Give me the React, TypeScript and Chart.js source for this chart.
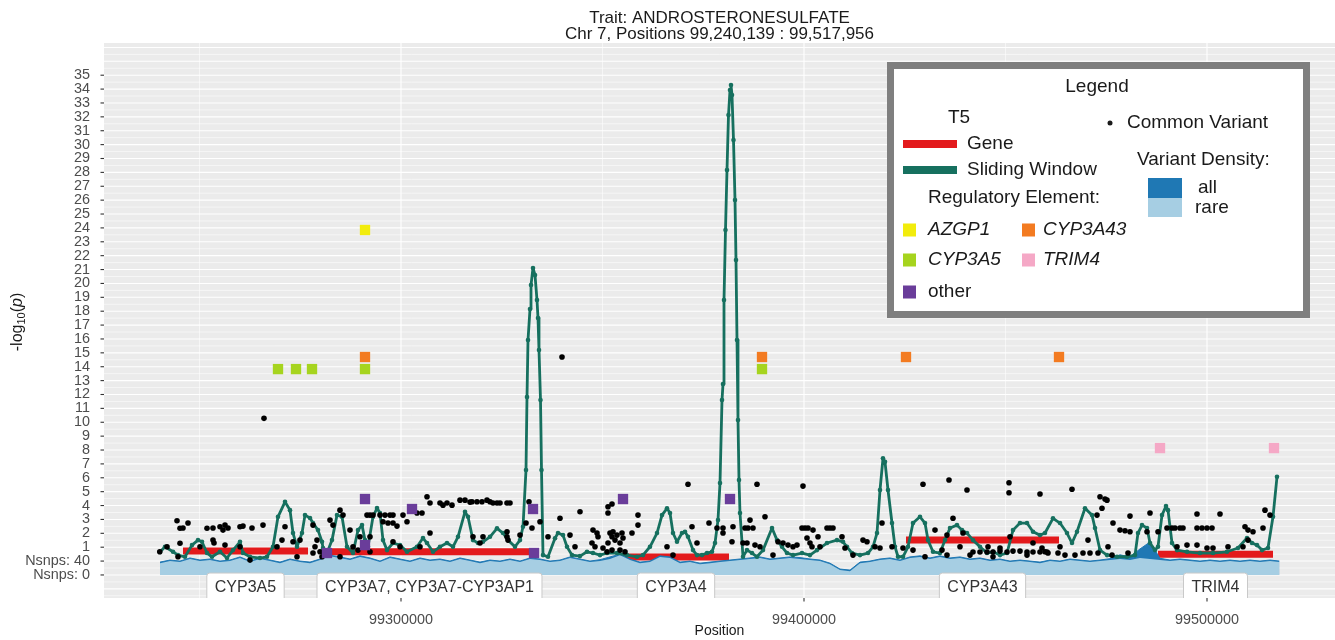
import React, { useEffect, useRef } from 'react';
import { Chart, registerables } from 'chart.js';

Chart.register(...registerables);

const FONT = "'Liberation Sans', Arial, sans-serif";

const TITLE_LINES = ['Trait: ANDROSTERONESULFATE', 'Chr 7, Positions 99,240,139 : 99,517,956'];
const X_TITLE = 'Position';

const X_MIN = 99226302;
const X_MAX = 99531763;
const Y_MIN = -2.66;
const Y_MAX = 37.32;

const X_TICKS = [99300000, 99400000, 99500000];
const X_MINOR = [99250000, 99350000, 99450000];
const Y_TICKS = [-1, 0, 1, 2, 3, 4, 5, 6, 7, 8, 9, 10, 11, 12, 13, 14, 15, 16, 17, 18, 19, 20, 21, 22, 23, 24, 25, 26, 27, 28, 29, 30, 31, 32, 33, 34, 35];
const Y_TICK_LABELS = ['Nsnps: 0', 'Nsnps: 40', '1', '2', '3', '4', '5', '6', '7', '8', '9', '10', '11', '12', '13', '14', '15', '16', '17', '18', '19', '20', '21', '22', '23', '24', '25', '26', '27', '28', '29', '30', '31', '32', '33', '34', '35'];

// genes (T5)
const geneNames = ['CYP3A5', 'CYP3A7, CYP3A7-CYP3AP1', 'CYP3A4', 'CYP3A43', 'TRIM4'];
const geneStart = [99245905, 99281638, 99355087, 99425311, 99487842];
const geneEnd = [99276923, 99332506, 99381390, 99463276, 99516378];
const geneLevel = [0.72, 0.68, 0.29, 1.51, 0.5];
const GENE_LABEL_LEVEL = -1.87;

// sliding window
const windowPos = [
  99240200, 99241439, 99243424, 99244665, 99246402, 99248139, 99249628, 99250620, 99251861, 99253102,
  99255087, 99256824, 99258312, 99260049, 99260794, 99262531, 99265012, 99266749, 99268238, 99269479,
  99271216, 99272456, 99273201, 99274193, 99275434, 99276179, 99277419, 99278164, 99279404, 99280397,
  99280645, 99281638, 99282878, 99284119, 99285360, 99286600, 99288089, 99289330, 99290323, 99291067,
  99291811, 99293052, 99294045, 99294789, 99295533, 99296526, 99298015, 99299752, 99301489, 99303970,
  99305459, 99306452, 99307940, 99309677, 99311414, 99312903, 99314144, 99315881, 99316625, 99317866,
  99319107, 99320347, 99322084, 99323821, 99325310, 99326551, 99328288, 99329529, 99330273, 99331018,
  99331266, 99331514, 99332010, 99332258, 99332754, 99333251, 99333747, 99333995, 99334243, 99334616,
  99334864, 99335236, 99336477, 99338214, 99338958, 99340199, 99341191, 99342432, 99344417, 99346154,
  99347643, 99349380, 99351117, 99353598, 99356080, 99358561, 99360050, 99361787, 99363524, 99364765,
  99366005, 99366750, 99367494, 99368487, 99369727, 99370472, 99371216, 99372457, 99373449, 99374690,
  99375931, 99377172, 99377916, 99378660, 99379157, 99379653, 99379901, 99380149, 99380521, 99380894,
  99381266, 99381638, 99381886, 99382134, 99382507, 99382879, 99383127, 99383375, 99383623, 99383871,
  99384119, 99384864, 99385856, 99387097, 99388338, 99389827, 99392060, 99393301, 99394541, 99395782,
  99397271, 99399504, 99401489, 99403226, 99405708, 99408189, 99409678, 99410670, 99411911, 99413896,
  99415881, 99417122, 99418115, 99418859, 99419603, 99420100, 99420844, 99421837, 99422581, 99423326,
  99424566, 99425807, 99427048, 99428785, 99430025, 99430770, 99432010, 99433747, 99434988, 99436229,
  99437966, 99439207, 99440447, 99441936, 99443673, 99445410, 99446899, 99448636, 99450373, 99451862,
  99453599, 99455336, 99456824, 99458561, 99459802, 99461787, 99463524, 99465261, 99466502, 99467743,
  99469728, 99471465, 99472209, 99473450, 99475187, 99477668, 99480150, 99482135, 99482879, 99483872,
  99485112, 99485857, 99487098, 99487842, 99488835, 99489827, 99490323, 99491316, 99492557, 99495038,
  99498264, 99501490, 99504964, 99507693, 99509926, 99511167, 99512408, 99513649, 99515137, 99516378,
  99517371,
];
const windowLogP = [
  0.65, 1.03, 0.67, 0.43, 0.31, 1.15, 1.51, 1.39, 0.58, 0.31,
  0.67, 0.22, 0.79, 1.39, 0.58, 0.31, 0.22, 0.31, 1.03, 3.19,
  4.27, 3.67, 2.02, 1.03, 2.02, 3.31, 3.1, 2.74, 2.23, 1.39,
  0.94, 0.58, 1.51, 3.31, 3.19, 1.03, 0.58, 2.23, 2.59, 1.51,
  1.03, 3.19, 3.82, 3.46, 1.51, 0.79, 1.3, 1.15, 0.67, 1.03,
  1.66, 1.3, 0.67, 1.03, 1.3, 1.03, 1.75, 3.55, 3.19, 1.51,
  1.3, 1.39, 1.75, 2.36, 2.02, 1.51, 1.03, 1.51, 2.47, 6.56,
  11.82, 15.92, 18.16, 19.88, 21.11, 20.61, 18.8, 17.51, 15.2, 11.6,
  6.56, 0.43, 0.31, 1.64, 2.02, 1.87, 1.03, 0.43, 0.36, 0.67,
  0.58, 0.43, 0.58, 0.58, 0.43, 0.31, 0.43, 1.03, 2.02, 3.31,
  3.8, 3.46, 2.02, 1.39, 2.02, 2.11, 1.75, 0.79, 0.43, 0.43,
  0.58, 0.67, 1.3, 2.95, 5.62, 11.6, 12.75, 18.8, 23.85, 28.17,
  32.13, 33.93, 34.29, 33.57, 30.33, 26.01, 21.69, 15.92, 10.16, 5.84,
  3.46, 0.31, 0.79, 0.58, 0.31, 0.79, 2.38, 1.51, 1.03, 0.58,
  0.43, 0.58, 0.43, 0.79, 1.3, 1.51, 1.39, 1.03, 0.58, 0.43,
  0.58, 1.03, 2.02, 5.12, 7.4, 7.15, 5.12, 2.74, 1.03, 0.31,
  0.31, 1.03, 2.74, 3.19, 2.74, 1.51, 0.67, 0.58, 1.51, 2.38,
  2.59, 2.23, 2.02, 1.51, 1.03, 0.58, 0.67, 0.43, 0.58, 2.23,
  2.74, 2.74, 2.11, 1.87, 2.02, 3.08, 2.74, 2.02, 1.3, 2.11,
  3.8, 3.31, 2.38, 0.79, 0.43, 0.31, 0.31, 0.43, 2.02, 2.59,
  2.38, 1.3, 0.79, 1.03, 3.31, 3.96, 3.67, 1.3, 0.79, 0.67,
  0.58, 0.58, 0.67, 0.94, 1.66, 1.3, 1.15, 0.79, 0.94, 3.19,
  6.07,
];

// common variants
const variantPos = [
  99240139, 99241935, 99244665, 99245161, 99244417, 99247146, 99245161, 99245905, 99250124, 99251861,
  99253350, 99253350, 99253598, 99255087, 99255831, 99256327, 99256327, 99257072, 99260049, 99260049,
  99260794, 99262531, 99263027, 99265757, 99266005, 99269231, 99270471, 99271216, 99273201, 99274193,
  99274938, 99278164, 99278660, 99279156, 99278164, 99279901, 99280397, 99282382, 99283126, 99284863,
  99285608, 99287345, 99288089, 99289330, 99289826, 99290571, 99292308, 99292308, 99284863, 99291563,
  99292308, 99293052, 99294789, 99296030, 99297270, 99298015, 99295533, 99296774, 99298015, 99299007,
  99300496, 99301489, 99303970, 99305211, 99306452, 99307196, 99309677, 99310422, 99298015, 99299752,
  99307196, 99304715, 99311414, 99312655, 99314640, 99315881, 99317122, 99317618, 99318859, 99320099,
  99321340, 99322084, 99322829, 99323821, 99324566, 99326303, 99327047, 99331762, 99331018, 99332506,
  99334491, 99336477, 99339454, 99339951, 99341936, 99343176, 99344417, 99347643, 99348635, 99348884,
  99347395, 99348139, 99350124, 99351365, 99352358, 99351365, 99351861, 99352358, 99352606, 99353102,
  99353598, 99354839, 99355087, 99354343, 99351365, 99351117, 99352358, 99354343, 99355583, 99357320,
  99358809, 99358809, 99371216, 99366005, 99367494, 99372209, 99373449, 99376427, 99378412, 99379901,
  99379901, 99382134, 99382382, 99385360, 99385856, 99317866, 99320347, 99319603, 99326303, 99326303,
  99326551, 99329529, 99388338, 99399752, 99390323, 99386601, 99386105, 99387345, 99384864, 99387842,
  99389082, 99392308, 99393549, 99394789, 99396030, 99397271, 99398263, 99399504, 99400249, 99400993,
  99402234, 99400745, 99401489, 99401986, 99403474, 99403971, 99405708, 99406452, 99407196, 99409430,
  99410174, 99412159, 99414641, 99415633, 99417618, 99418859, 99419355, 99421837, 99424566, 99429529,
  99435981, 99440447, 99450869, 99450869, 99458561, 99436973, 99432507, 99435484, 99430025, 99427048,
  99434244, 99435484, 99438710, 99441936, 99443673, 99445410, 99446899, 99448636, 99450373, 99451862,
  99453599, 99455336, 99456824, 99458561, 99460298, 99441192, 99446899, 99455336, 99445658, 99448636,
  99451117, 99456824, 99439455, 99466502, 99473450, 99474691, 99475187, 99473946, 99472705, 99470472,
  99459802, 99460547, 99463028, 99464765, 99467246, 99469231, 99470968, 99472954, 99463524, 99475435,
  99476676, 99478413, 99479653, 99480894, 99480894, 99476428, 99480398, 99485857, 99485112, 99487842,
  99490075, 99491316, 99492060, 99493301, 99494045, 99492557, 99495038, 99497519, 99503227, 99497519,
  99498760, 99500000, 99501242, 99497519, 99500000, 99501490, 99505212, 99509430, 99510175, 99511415,
  99513897, 99510175, 99508934, 99514393, 99515634, 99459058,
];
const variantLogP = [
  0.67, 1.03, 0.31, 1.28, 2.9, 2.74, 2.36, 2.38, 1.03, 2.36,
  2.38, 1.51, 1.3, 2.47, 2.23, 2.59, 1.15, 2.38, 2.47, 1.03,
  2.52, 0.07, 2.38, 2.59, 10.28, 1.03, 1.51, 2.47, 1.39, 0.31,
  1.51, 2.59, 1.03, 1.51, 0.58, 0.67, 0.31, 2.95, 2.59, 3.67,
  3.31, 2.23, 1.03, 0.79, 1.75, 1.03, 1.75, 0.67, 0.31, 3.31,
  3.31, 3.31, 3.31, 3.31, 3.31, 3.31, 2.83, 2.74, 2.74, 2.52,
  3.31, 2.83, 3.46, 3.46, 4.63, 4.18, 4.18, 4.03, 1.39, 1.03,
  2.02, 1.03, 4.18, 4.03, 4.39, 4.39, 4.25, 4.27, 4.27, 4.27,
  4.39, 4.27, 4.18, 4.18, 4.18, 4.18, 4.18, 4.27, 2.74, 2.38,
  2.83, 1.75, 3.08, 14.7, 1.87, 1.03, 3.55, 2.23, 2.02, 1.75,
  1.3, 1.03, 0.94, 3.91, 4.11, 3.46, 2.02, 1.75, 2.11, 1.51,
  1.87, 2.02, 1.66, 1.3, 1.3, 0.67, 0.79, 0.79, 0.67, 2.02,
  3.31, 2.59, 5.53, 1.03, 0.43, 2.47, 1.3, 2.74, 2.38, 2.38,
  2.02, 1.39, 2.47, 2.38, 1.3, 1.75, 1.75, 1.3, 2.11, 1.75,
  1.51, 1.87, 5.53, 5.4, 3.19, 2.95, 2.38, 2.38, 1.3, 1.15,
  1.03, 0.43, 1.39, 1.3, 1.15, 1.03, 1.15, 2.38, 2.38, 2.38,
  2.23, 1.66, 1.3, 1.03, 1.75, 1.03, 2.38, 2.38, 2.38, 1.75,
  0.94, 0.43, 1.51, 1.39, 1.03, 0.94, 2.74, 1.03, 0.94, 5.53,
  5.84, 5.12, 5.64, 4.92, 4.83, 3.08, 2.23, 1.87, 0.31, 0.79,
  0.79, 0.43, 1.03, 0.65, 0.65, 0.65, 0.65, 0.72, 0.65, 0.72,
  0.72, 0.65, 0.65, 0.65, 0.65, 0.43, 0.31, 0.43, 1.03, 0.94,
  1.75, 1.3, 2.02, 5.17, 4.63, 4.47, 4.39, 3.8, 3.31, 1.51,
  0.67, 0.58, 0.58, 0.43, 0.43, 0.58, 0.58, 0.58, 1.03, 1.03,
  2.74, 2.23, 2.18, 2.11, 3.24, 0.43, 0.58, 3.46, 2.11, 2.11,
  2.38, 2.38, 2.38, 2.38, 2.38, 1.03, 1.15, 3.39, 3.39, 2.38,
  2.38, 2.38, 2.38, 1.15, 0.94, 0.94, 1.03, 2.47, 2.23, 2.11,
  2.38, 1.51, 1.03, 3.67, 3.31, 0.94,
];

// regulatory elements
const azgp1Pos = [99291067];
const azgp1LogP = [23.85];
const cyp3a5RegPos = [99269479, 99273945, 99277916, 99291067, 99389579];
const cyp3a5RegLogP = [13.83, 13.83, 13.83, 13.83, 13.83];
const cyp3a43RegPos = [99291067, 99389579, 99425311, 99463276];
const cyp3a43RegLogP = [14.7, 14.7, 14.7, 14.7];
const trim4RegPos = [99488338, 99516626];
const trim4RegLogP = [8.14, 8.14];
const otherRegPos = [99291067, 99302730, 99332754, 99355087, 99381638, 99291067, 99333003, 99281638];
const otherRegLogP = [4.47, 3.75, 3.75, 4.47, 4.47, 1.15, 0.58, 0.58];

// variant density (number of SNPs per window)
const densityPos = [
  99240198, 99242680, 99245161, 99247642,
  99250124, 99252605, 99255087, 99257568, 99260049, 99262531, 99265012, 99267494, 99269975, 99272456,
  99274938, 99277419, 99279901, 99282382, 99284863, 99287345, 99289826, 99292308, 99294789, 99297270,
  99299752, 99302233, 99304715, 99307196, 99309677, 99312159, 99314640, 99317122, 99319603, 99322084,
  99324566, 99327047, 99329529, 99332010, 99334491, 99336973, 99339454, 99341936, 99344417, 99346898,
  99349380, 99351861, 99354343, 99356824, 99359305, 99361787, 99364268, 99366750, 99369231, 99371712,
  99374194, 99376675, 99379157, 99381638, 99384119, 99386601, 99389082, 99391564, 99394045, 99396526,
  99399008, 99401489, 99403971, 99406452, 99408933, 99411415, 99413896, 99416378, 99418859, 99421340,
  99423822, 99426303, 99428785, 99431266, 99433747, 99436229, 99438710, 99441192, 99443673, 99446154,
  99448636, 99451117, 99453599, 99456080, 99458561, 99461043, 99463524, 99466006, 99468487, 99470968,
  99473450, 99475931, 99478413, 99480894, 99483375, 99485857, 99488338, 99490820, 99493301, 99495782,
  99498264, 99500745, 99503227, 99505708, 99508189, 99510671, 99513152, 99515634,
  99517956,
];
const nsnpsRare = [
  34, 40, 37, 46,
  40, 43, 37, 40, 49, 37, 46, 40, 34, 43,
  37, 34, 43, 54, 49, 43, 52, 46, 37, 49,
  43, 37, 46, 40, 43, 37, 46, 40, 34, 40,
  37, 43, 37, 46, 43, 37, 40, 49, 43, 37,
  40, 46, 57, 43, 34, 37, 52, 49, 34, 37,
  31, 34, 37, 40, 43, 46, 49, 43, 46, 49,
  46, 43, 40, 31, 14, 11, 34, 37, 43, 46,
  40, 49, 52, 46, 52, 46, 49, 43, 46, 40,
  43, 37, 40, 37, 34, 40, 37, 43, 40, 37,
  40, 43, 46, 43, 49, 46, 43, 40, 43, 40,
  37, 40, 37, 40, 37, 40, 37, 40,
  37,
];
const nsnpsAll = [
  37, 43, 40, 49,
  43, 46, 40, 43, 52, 40, 49, 43, 37, 46,
  40, 37, 46, 57, 52, 46, 55, 49, 40, 52,
  46, 40, 49, 43, 46, 40, 49, 43, 37, 43,
  40, 46, 40, 49, 46, 40, 43, 52, 46, 40,
  44, 52, 60, 46, 37, 40, 55, 52, 37, 40,
  34, 37, 40, 43, 46, 49, 52, 46, 49, 52,
  50, 46, 43, 34, 17, 14, 37, 40, 46, 49,
  43, 52, 55, 49, 55, 49, 52, 46, 49, 43,
  46, 40, 43, 40, 37, 43, 40, 46, 43, 40,
  43, 47, 58, 52, 75, 95, 48, 43, 46, 43,
  40, 43, 40, 43, 40, 43, 40, 43,
  40,
];

const COLORS = {
  gene: '#e31a1c',
  window: '#16705f',
  variant: '#000000',
  azgp1: '#f2ec0c',
  cyp3a5: '#a6d41e',
  cyp3a43: '#f37b21',
  trim4: '#f5a8c6',
  other: '#6a3d9a',
  densAll: '#1f78b4',
  densRare: '#a6cee3',
  panel: '#ebebeb',
  tickText: '#4d4d4d',
  text: '#1a1a1a',
};

const pts = (xs: number[], ys: number[]) => xs.map((x, i) => ({ x, y: ys[i] }));
const densityPts = (xs: number[], counts: number[]) => xs.map((x, i) => ({ x, y: counts[i] / 40 - 1 }));
const genePts = () => {
  const out: { x: number; y: number | null }[] = [];
  geneStart.forEach((s, i) => {
    out.push({ x: s, y: geneLevel[i] });
    out.push({ x: geneEnd[i], y: geneLevel[i] });
    out.push({ x: geneEnd[i], y: null });
  });
  return out;
};

const f = (size: number, style = '') => `${style ? style + ' ' : ''}${size}px ${FONT}`;

const backgroundPlugin = {
  id: 'ggBackground',
  beforeDraw(chart: any) {
    const { ctx, chartArea: a, scales } = chart;
    const xs = scales.x;
    const ys = scales.y;
    ctx.save();
    ctx.fillStyle = '#ffffff';
    ctx.fillRect(0, 0, chart.width, chart.height);
    ctx.fillStyle = COLORS.panel;
    ctx.fillRect(a.left, a.top, a.right - a.left, a.bottom - a.top);
    ctx.beginPath();
    ctx.rect(a.left, a.top, a.right - a.left, a.bottom - a.top);
    ctx.clip();
    ctx.strokeStyle = '#ffffff';
    ctx.lineWidth = 0.55;
    for (let k = -6; k <= 76; k++) {
      if (k % 2 === 0) continue;
      const py = ys.getPixelForValue(k / 2);
      ctx.beginPath();
      ctx.moveTo(a.left, py);
      ctx.lineTo(a.right, py);
      ctx.stroke();
    }
    X_MINOR.forEach((v) => {
      const px = xs.getPixelForValue(v);
      ctx.beginPath();
      ctx.moveTo(px, a.top);
      ctx.lineTo(px, a.bottom);
      ctx.stroke();
    });
    ctx.lineWidth = 1.1;
    for (let k = -3; k <= 38; k++) {
      const py = ys.getPixelForValue(k);
      ctx.beginPath();
      ctx.moveTo(a.left, py);
      ctx.lineTo(a.right, py);
      ctx.stroke();
    }
    X_TICKS.forEach((v) => {
      const px = xs.getPixelForValue(v);
      ctx.beginPath();
      ctx.moveTo(px, a.top);
      ctx.lineTo(px, a.bottom);
      ctx.stroke();
    });
    ctx.restore();
    ctx.save();
    ctx.strokeStyle = '#333333';
    ctx.lineWidth = 1.1;
    Y_TICKS.forEach((v) => {
      const py = ys.getPixelForValue(v);
      ctx.beginPath();
      ctx.moveTo(a.left - 3.5, py);
      ctx.lineTo(a.left, py);
      ctx.stroke();
    });
    X_TICKS.forEach((v) => {
      const px = xs.getPixelForValue(v);
      ctx.beginPath();
      ctx.moveTo(px, a.bottom);
      ctx.lineTo(px, a.bottom + 3.5);
      ctx.stroke();
    });
    ctx.restore();
  },
};

const roundRect = (ctx: CanvasRenderingContext2D, x: number, y: number, w: number, h: number, r: number) => {
  ctx.beginPath();
  ctx.moveTo(x + r, y);
  ctx.lineTo(x + w - r, y);
  ctx.quadraticCurveTo(x + w, y, x + w, y + r);
  ctx.lineTo(x + w, y + h - r);
  ctx.quadraticCurveTo(x + w, y + h, x + w - r, y + h);
  ctx.lineTo(x + r, y + h);
  ctx.quadraticCurveTo(x, y + h, x, y + h - r);
  ctx.lineTo(x, y + r);
  ctx.quadraticCurveTo(x, y, x + r, y);
  ctx.closePath();
};

const geneLabelPlugin = {
  id: 'geneLabels',
  afterDatasetsDraw(chart: any) {
    const { ctx, chartArea: a, scales } = chart;
    ctx.save();
    ctx.beginPath();
    ctx.rect(a.left, a.top, a.right - a.left, a.bottom - a.top);
    ctx.clip();
    ctx.font = f(16);
    ctx.textAlign = 'center';
    ctx.textBaseline = 'middle';
    geneNames.forEach((name, i) => {
      const cx = scales.x.getPixelForValue((geneStart[i] + geneEnd[i]) / 2);
      const cy = scales.y.getPixelForValue(GENE_LABEL_LEVEL);
      const w = ctx.measureText(name).width + 16;
      const h = 28;
      roundRect(ctx, cx - w / 2, cy - h / 2, w, h, 3);
      ctx.fillStyle = '#ffffff';
      ctx.fill();
      ctx.strokeStyle = '#c9c9c9';
      ctx.lineWidth = 1;
      ctx.stroke();
      ctx.fillStyle = '#333333';
      ctx.fillText(name, cx, cy + 1);
    });
    ctx.restore();
  },
};

const annotationPlugin = {
  id: 'annotations',
  afterDraw(chart: any) {
    const { ctx, chartArea: a } = chart;
    ctx.save();
    ctx.fillStyle = COLORS.text;
    ctx.font = f(17);
    ctx.textAlign = 'center';
    ctx.textBaseline = 'middle';
    const cx = (a.left + a.right) / 2;
    ctx.fillText(TITLE_LINES[0], cx, 18);
    ctx.fillText(TITLE_LINES[1], cx, 34.5);

    const parts = [
      { t: '-log', font: f(16), dy: 0 },
      { t: '10', font: f(11), dy: 4 },
      { t: '(', font: f(16), dy: 0 },
      { t: 'p', font: f(16, 'italic'), dy: 0 },
      { t: ')', font: f(16), dy: 0 },
    ];
    let total = 0;
    const widths = parts.map((p) => {
      ctx.font = p.font;
      const w = ctx.measureText(p.t).width;
      total += w;
      return w;
    });
    ctx.save();
    ctx.translate(18, 322);
    ctx.rotate(-Math.PI / 2);
    ctx.textAlign = 'left';
    ctx.textBaseline = 'middle';
    let xx = -total / 2;
    parts.forEach((p, i) => {
      ctx.font = p.font;
      ctx.fillText(p.t, xx, p.dy);
      xx += widths[i];
    });
    ctx.restore();

    const L = { x: 887, y: 62, w: 423, h: 256 };
    ctx.fillStyle = '#ffffff';
    ctx.fillRect(L.x, L.y, L.w, L.h);
    ctx.strokeStyle = '#7f7f7f';
    ctx.lineWidth = 7;
    ctx.strokeRect(L.x + 3.5, L.y + 3.5, L.w - 7, L.h - 7);

    ctx.fillStyle = COLORS.text;
    ctx.textBaseline = 'middle';
    ctx.font = f(19);
    ctx.textAlign = 'center';
    ctx.fillText('Legend', 1097, 87);
    ctx.textAlign = 'left';
    ctx.fillText('T5', 948, 118);

    ctx.lineWidth = 8;
    ctx.strokeStyle = COLORS.gene;
    ctx.beginPath();
    ctx.moveTo(903, 144);
    ctx.lineTo(957, 144);
    ctx.stroke();
    ctx.strokeStyle = COLORS.window;
    ctx.beginPath();
    ctx.moveTo(903, 170);
    ctx.lineTo(957, 170);
    ctx.stroke();
    ctx.fillText('Gene', 967, 144);
    ctx.fillText('Sliding Window', 967, 170);
    ctx.fillText('Regulatory Element:', 928, 198);

    const sq = (x: number, y: number, c: string) => {
      ctx.fillStyle = c;
      ctx.fillRect(x - 6.5, y - 6.5, 13, 13);
    };
    sq(909.5, 230, COLORS.azgp1);
    sq(1028.5, 230, COLORS.cyp3a43);
    sq(909.5, 260, COLORS.cyp3a5);
    sq(1028.5, 260, COLORS.trim4);
    sq(909.5, 292, COLORS.other);
    ctx.fillStyle = COLORS.text;
    ctx.font = f(19, 'italic');
    ctx.fillText('AZGP1', 928, 230);
    ctx.fillText('CYP3A43', 1043, 230);
    ctx.fillText('CYP3A5', 928, 260);
    ctx.fillText('TRIM4', 1043, 260);
    ctx.font = f(19);
    ctx.fillText('other', 928, 292);

    ctx.beginPath();
    ctx.arc(1110, 123, 2.5, 0, Math.PI * 2);
    ctx.fill();
    ctx.fillText('Common Variant', 1127, 123);
    ctx.fillText('Variant Density:', 1137, 160);
    ctx.fillStyle = COLORS.densAll;
    ctx.fillRect(1148, 178, 34, 20);
    ctx.fillStyle = COLORS.densRare;
    ctx.fillRect(1148, 198, 34, 19);
    ctx.fillStyle = COLORS.text;
    ctx.fillText('all', 1198, 188);
    ctx.fillText('rare', 1195, 208);
    ctx.restore();
  },
};

export default function App() {
  const ref = useRef<HTMLCanvasElement>(null);
  useEffect(() => {
    const canvas = ref.current;
    if (!canvas) return;
    const regDataset = (label: string, xs: number[], ys: number[], color: string) => ({
      label,
      data: pts(xs, ys),
      showLine: false,
      pointStyle: 'rect',
      pointRadius: 7.3,
      pointBackgroundColor: color,
      pointBorderWidth: 0,
      borderColor: color,
      order: 0,
    });
    const chart = new Chart(canvas, {
      type: 'line',
      data: {
        datasets: [
          regDataset('AZGP1', azgp1Pos, azgp1LogP, COLORS.azgp1),
          regDataset('CYP3A5', cyp3a5RegPos, cyp3a5RegLogP, COLORS.cyp3a5),
          regDataset('CYP3A43', cyp3a43RegPos, cyp3a43RegLogP, COLORS.cyp3a43),
          regDataset('TRIM4', trim4RegPos, trim4RegLogP, COLORS.trim4),
          regDataset('other', otherRegPos, otherRegLogP, COLORS.other),
          {
            label: 'Common Variant',
            data: pts(variantPos, variantLogP),
            showLine: false,
            pointRadius: 2.8,
            pointBackgroundColor: COLORS.variant,
            pointBorderWidth: 0,
            order: 1,
          },
          {
            label: 'Sliding Window',
            data: pts(windowPos, windowLogP),
            borderColor: COLORS.window,
            borderWidth: 2.8,
            borderJoinStyle: 'round',
            pointRadius: 2.3,
            pointBackgroundColor: COLORS.window,
            pointBorderWidth: 0,
            tension: 0,
            order: 2,
          },
          {
            label: 'rare',
            data: densityPts(densityPos, nsnpsRare),
            borderColor: 'rgba(0,0,0,0)',
            borderWidth: 0,
            backgroundColor: COLORS.densRare,
            fill: { value: -1 },
            pointRadius: 0,
            order: 3,
          },
          {
            label: 'all',
            data: densityPts(densityPos, nsnpsAll),
            borderColor: COLORS.densAll,
            borderWidth: 1,
            backgroundColor: COLORS.densAll,
            fill: { value: -1 },
            pointRadius: 0,
            order: 4,
          },
          {
            label: 'Gene',
            data: genePts(),
            borderColor: COLORS.gene,
            borderWidth: 7,
            borderCapStyle: 'butt',
            pointRadius: 0,
            spanGaps: false,
            order: 5,
          },
        ] as any,
      },
      options: {
        animation: false,
        responsive: false,
        devicePixelRatio: 1,
        events: [],
        layout: { autoPadding: false, padding: { top: 43, right: 0, bottom: 0, left: 0 } },
        plugins: {
          legend: { display: false },
          title: { display: false },
          tooltip: { enabled: false },
        },
        scales: {
          x: {
            type: 'linear',
            min: X_MIN,
            max: X_MAX,
            grid: { display: false },
            border: { display: false },
            afterBuildTicks: (s: any) => {
              s.ticks = X_TICKS.map((v) => ({ value: v }));
            },
            afterFit: (s: any) => {
              s.height = 42;
              s.paddingLeft = 0;
              s.paddingRight = 0;
            },
            ticks: {
              autoSkip: false,
              maxRotation: 0,
              padding: 5,
              color: COLORS.tickText,
              font: { family: FONT, size: 14.4 },
              callback: (v: any) => String(v),
            },
            title: {
              display: true,
              text: X_TITLE,
              color: COLORS.text,
              font: { family: FONT, size: 14 },
              padding: { top: 0, bottom: 0 },
            },
          },
          y: {
            type: 'linear',
            min: Y_MIN,
            max: Y_MAX,
            grid: { display: false },
            border: { display: false },
            afterBuildTicks: (s: any) => {
              s.ticks = Y_TICKS.map((v) => ({ value: v }));
            },
            afterFit: (s: any) => {
              s.width = 104;
              s.paddingTop = 0;
              s.paddingBottom = 0;
            },
            ticks: {
              autoSkip: false,
              padding: 6,
              color: COLORS.tickText,
              font: { family: FONT, size: 14.4 },
              callback: (v: any) => {
                const i = Y_TICKS.indexOf(Number(v));
                return i >= 0 ? Y_TICK_LABELS[i] : '';
              },
            },
          },
        },
      } as any,
      plugins: [backgroundPlugin, geneLabelPlugin, annotationPlugin],
    });
    return () => chart.destroy();
  }, []);
  return (
    <div style={{ position: 'absolute', left: 0, top: 0, width: 1335, height: 640, background: '#ffffff' }}>
      <canvas ref={ref} width={1335} height={640} style={{ display: 'block', width: 1335, height: 640 }} />
    </div>
  );
}
